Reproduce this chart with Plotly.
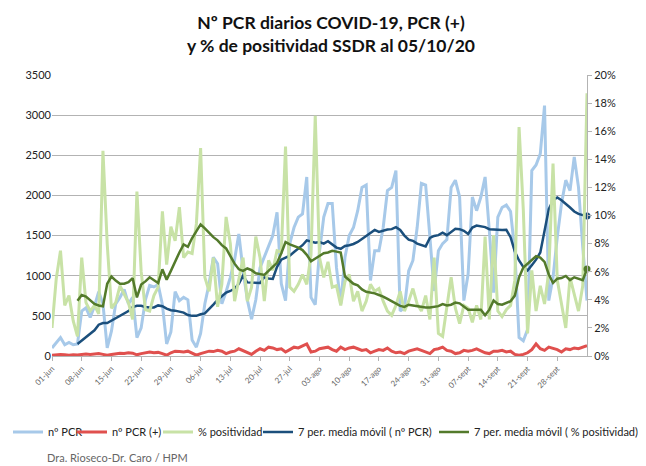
import pandas as pd
import plotly.graph_objects as go

# days 01-jun .. 05-oct 2020
fechas = pd.date_range("2020-06-01", "2020-10-05", freq="D")

tick_fechas = pd.date_range("2020-06-01", "2020-09-28", freq="7D")
tick_labels = ["01-jun", "08-jun", "15-jun", "22-jun", "29-jun", "06-jul", "13-jul",
               "20-jul", "27-jul", "03-ago", "10-ago", "17-ago", "24-ago", "31-ago",
               "07-sept", "14-sept", "21-sept", "28-sept"]

n_pcr = [100, 170, 230, 140, 170, 140, 150,
         560, 600, 480, 620, 800, 650, 100,
         310, 650, 730, 830, 650, 730, 230,
         350, 700, 880, 860, 890, 640, 150,
         300, 800, 690, 730, 700, 200, 110,
         280, 650, 900, 1230, 1150, 650, 800,
         980, 1200, 1520, 1060, 700, 460, 700,
         1100, 1230, 1350, 1500, 1790, 900, 690,
         1400, 1600, 1730, 1770, 2230, 730, 640,
         1300, 1730, 1900, 1900, 1100, 650, 1230,
         1500, 1600, 1810, 2100, 2130, 940, 1310,
         1310, 1600, 2060, 2100, 2310, 560, 600,
         1060, 1190, 1600, 2150, 2130, 1480, 810,
         1310, 1400, 1450, 2100, 2190, 1980, 690,
         1020, 1980, 1810, 1980, 2230, 1560, 790,
         1730, 1850, 1880, 1800, 1300, 230, 190,
         330, 2310, 2380, 2520, 3120, 690, 980,
         1480, 1900, 2190, 2060, 2480, 2100, 1360,
         690]

n_pcr_pos = [10, 15, 20, 15, 10, 15, 12,
             20, 25, 20, 25, 30, 20, 10,
             20, 30, 35, 30, 40, 35, 15,
             30, 40, 50, 40, 45, 30, 10,
             40, 60, 55, 50, 60, 35, 10,
             30, 50, 60, 55, 70, 60, 30,
             50, 60, 90, 70, 50, 20, 60,
             90, 70, 110, 100, 80, 90, 50,
             80, 110, 100, 130, 150, 50, 60,
             90, 100, 110, 80, 60, 110, 80,
             100, 110, 90, 70, 80, 40, 60,
             80, 70, 100, 60, 40, 50, 30,
             60, 80, 90, 70, 50, 30, 80,
             90, 110, 70, 60, 30, 40, 70,
             60, 70, 90, 70, 40, 30, 60,
             60, 70, 50, 60, 20, 10, 20,
             40, 80, 150, 90, 70, 110, 90,
             80, 50, 90, 80, 100, 90, 110,
             130]

# % positividad (as percent)
positividad = [2.0, 5.5, 7.5, 3.6, 4.3, 2.5, 1.4,
               7.0, 3.8, 3.2, 3.6, 3.0, 14.6, 8.0,
               3.4, 3.8, 5.0, 4.4, 3.8, 2.6, 11.7,
               6.0, 3.3, 3.2, 4.3, 4.9, 10.3, 6.5,
               9.2, 8.2, 10.6, 7.0, 7.4, 7.3, 9.4,
               14.8, 5.6, 4.6, 7.0, 3.5, 5.1, 9.9,
               8.0, 3.9, 5.6, 7.0, 3.9, 4.9, 8.5,
               7.0, 3.9, 6.8, 6.1, 7.5, 7.4, 14.9,
               4.9, 4.6, 5.1, 5.8, 5.1, 7.2, 17.1,
               7.0, 5.6, 6.7, 4.9, 5.0, 3.6, 5.3,
               5.8, 3.9, 4.6, 3.2, 3.9, 5.1, 4.6,
               4.8, 3.9, 3.2, 2.9, 3.6, 4.6, 3.2,
               3.9, 4.8, 3.7, 3.2, 4.3, 2.6, 7.0,
               1.6, 1.4, 3.6, 5.6, 3.4, 2.3, 3.6,
               3.4, 2.4, 3.6, 2.6, 8.5, 2.6, 8.6,
               3.2, 2.8, 3.3, 3.6, 5.4, 16.3, 10.4,
               1.6, 6.1, 3.2, 5.0, 3.7, 6.0, 13.7,
               5.4, 3.6, 2.0, 5.6, 4.3, 3.2, 5.0,
               18.7]

# 7 per. media movil (starts on day 7)
mm_pcr = [None] * 6 + [
    150, 190, 230, 280, 320, 390, 410, 410,
    440, 470, 500, 530, 560, 610, 625, 625,
    610, 605, 605, 630, 620, 590, 570, 565,
    555, 540, 510, 500, 500, 520, 530, 580,
    640, 700, 750, 790, 810, 840, 900, 1000,
    917, 917, 915, 910, 980, 965, 960, 1110,
    1200, 1225, 1250, 1295, 1340, 1380, 1440, 1420,
    1410, 1420, 1400, 1430, 1390, 1350, 1335, 1370,
    1380, 1395, 1420, 1455, 1490, 1525, 1570, 1545,
    1560, 1575, 1580, 1605, 1570, 1500, 1450, 1435,
    1400, 1380, 1365, 1470, 1495, 1505, 1535, 1505,
    1540, 1585, 1580, 1560, 1520, 1600, 1625, 1615,
    1605, 1580, 1575, 1575, 1570, 1572, 1480, 1300,
    1190, 1110, 1065, 1130, 1200, 1290, 1560, 1830,
    1940, 1975, 1940, 1900, 1850, 1800, 1770, 1755,
    1745]

mm_pos = [None] * 6 + [
    3.94, 4.34, 4.23, 3.94, 3.71, 3.60, 3.54, 5.14,
    5.66, 5.37, 5.14, 5.14, 5.26, 5.54, 4.17, 5.09,
    5.31, 5.60, 5.37, 5.20, 6.17, 5.43, 6.06, 6.74,
    7.37, 7.94, 7.77, 8.40, 8.86, 9.37, 9.09, 8.74,
    8.46, 8.23, 7.89, 7.66, 7.09, 6.57, 6.17, 6.06,
    6.23, 6.11, 5.89, 5.83, 5.77, 6.06, 6.34, 6.63,
    7.31, 8.11, 7.94, 7.83, 7.71, 7.54, 7.20, 6.74,
    6.91, 7.14, 7.31, 7.37, 7.49, 7.43, 7.37, 5.66,
    5.37, 5.14, 5.03, 4.74, 4.57, 4.51, 4.46, 4.34,
    4.23, 4.06, 3.89, 3.71, 3.57, 3.49, 3.65, 3.60,
    3.55, 3.45, 3.45, 3.45, 3.50, 3.55, 3.70, 3.60,
    3.65, 3.80, 3.75, 3.50, 3.30, 3.30, 3.30, 3.30,
    2.90, 3.30, 3.95, 3.70, 3.65, 3.75, 3.90, 4.30,
    5.60, 6.30, 6.55, 6.80, 7.10, 7.00, 6.70, 5.80,
    5.20, 5.50, 5.55, 5.70, 5.40, 5.60, 5.50, 5.40,
    6.20]

grid = "#b3b3b3"
font = "Lato, 'Open Sans', sans-serif"
azul_osc = "#1b4f7c"
verde_osc = "#537a2b"
pos_frac = [v / 100 for v in positividad]
mm_pos_frac = [v / 100 if v is not None else None for v in mm_pos]

fig = go.Figure()
fig.add_trace(go.Scatter(x=fechas, y=n_pcr, name="nº PCR", mode="lines",
                         line=dict(color="#a7c9e9", width=3), legend="legend"))
fig.add_trace(go.Scatter(x=fechas, y=n_pcr_pos, name="nº PCR (+)", mode="lines",
                         line=dict(color="#e0504e", width=3), legend="legend2"))
fig.add_trace(go.Scatter(x=fechas, y=pos_frac, name="% positividad",
                         mode="lines", yaxis="y2",
                         line=dict(color="#c8e2a6", width=3), legend="legend3"))
fig.add_trace(go.Scatter(x=fechas, y=mm_pcr, name="7 per. media móvil ( nº PCR)",
                         mode="lines", line=dict(color=azul_osc, width=2.5),
                         legend="legend4"))
fig.add_trace(go.Scatter(x=fechas, y=mm_pos_frac,
                         name="7 per. media móvil ( % positividad)", yaxis="y2",
                         mode="lines", line=dict(color=verde_osc, width=2.5),
                         legend="legend5"))
# end-point markers of the moving averages
fig.add_trace(go.Scatter(x=fechas[-1:], y=mm_pcr[-1:], mode="markers", cliponaxis=False,
                         marker=dict(size=7, color=azul_osc), showlegend=False))
fig.add_trace(go.Scatter(x=fechas[-1:], y=mm_pos_frac[-1:], mode="markers", yaxis="y2",
                         cliponaxis=False, marker=dict(size=7, color=verde_osc),
                         showlegend=False))

# page body adds ~8px offset, so layout coords are shifted back by 8
legend_x = [-8, 64, 150, 250, 426]
leg = {}
for i, lx in enumerate(legend_x):
    key = "legend" if i == 0 else "legend%d" % (i + 1)
    leg[key] = dict(orientation="h", xref="container", yref="container",
                    x=lx / 646, xanchor="left", y=(466 - 424) / 466, yanchor="middle",
                    font=dict(size=11, color="#222222"), itemwidth=30,
                    bgcolor="rgba(0,0,0,0)")

fig.update_layout(
    width=646, height=466,
    margin=dict(l=44, r=67, t=67, b=118),
    paper_bgcolor="white", plot_bgcolor="white",
    font=dict(family=font, size=11, color="#222222"),
    title=dict(text="<b>Nº PCR diarios COVID-19, PCR (+)<br>y % de positividad SSDR al 05/10/20</b>",
               x=0.5, xanchor="center", y=0.955, yanchor="top",
               font=dict(family=font, size=17.5, color="#111111")),
    showlegend=True,
    xaxis=dict(type="date", range=[fechas[0], fechas[-1]],
               tickvals=list(tick_fechas), ticktext=tick_labels, tickangle=-45,
               tickfont=dict(size=8, color="#666666"),
               ticks="outside", ticklen=4, tickcolor=grid,
               showline=True, linecolor=grid, showgrid=False),
    yaxis=dict(range=[0, 3500], dtick=500, showgrid=True, gridcolor=grid,
               gridwidth=1, zeroline=False, showline=False, ticks="",
               tickfont=dict(size=11)),
    yaxis2=dict(range=[0, 0.20], dtick=0.02, tickformat=".0%", overlaying="y",
                side="right", showgrid=False, zeroline=False, showline=True,
                linecolor=grid, ticks="outside", ticklen=4, tickcolor=grid,
                tickfont=dict(size=11)),
    annotations=[dict(text="Dra. Rioseco-Dr. Caro / HPM", xref="paper", yref="paper",
                      x=-0.013, y=-0.36, xanchor="left",
                      yanchor="middle", showarrow=False,
                      font=dict(size=11, color="#666666"))],
    **leg,
)

fig.write_html("out.html")
